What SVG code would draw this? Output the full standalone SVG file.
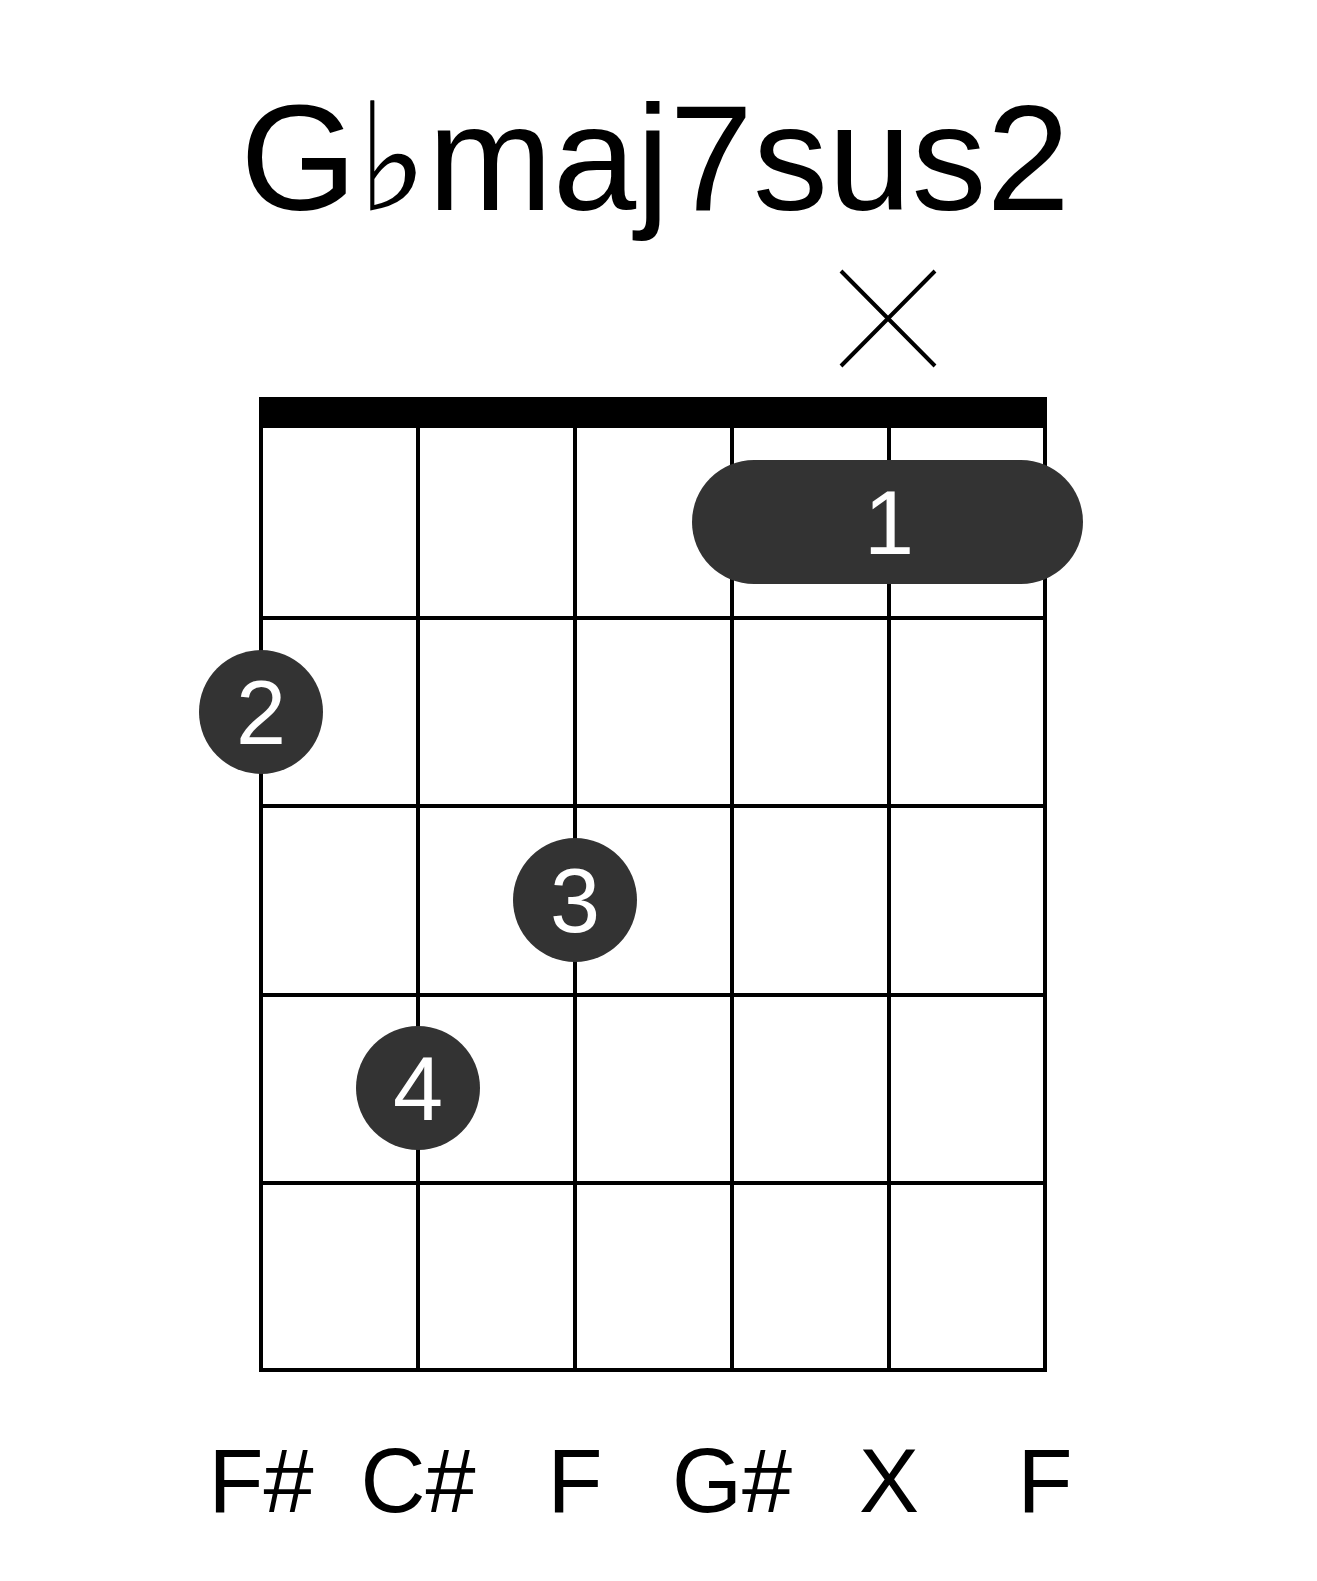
<svg xmlns="http://www.w3.org/2000/svg" width="1317" height="1581" viewBox="0 0 1317 1581">
<style>
.t{font-family:"Liberation Sans",Arial,sans-serif;text-anchor:middle;fill:#000}
.g{stroke:#000;stroke-width:4;fill:none}
.d{fill:#333}
.n{font-family:"Liberation Sans",Arial,sans-serif;text-anchor:middle;fill:#fff;font-size:90px}
</style>
<rect width="1317" height="1581" fill="#fff"/>
<text class="t" x="655" y="210" font-size="150">G♭maj7sus2</text>
<g id="grid">
<rect x="259" y="397" width="788" height="31" fill="#000"/>
<path class="g" d="M261 428V1370M418 428V1370M575 428V1370M732 428V1370M889 428V1370M1045 428V1370M259 618H1047M259 806H1047M259 995H1047M259 1183H1047M259 1370H1047"/>
</g>
<g id="mute"><path d="M841 271L935 366M935 271L841 366" stroke="#000" stroke-width="4"/></g>
<g id="barre"><rect class="d" x="692" y="460" width="391" height="124" rx="62"/><text class="n" x="889" y="554">1</text></g>
<g id="f2"><circle class="d" cx="261" cy="712" r="62"/><text class="n" x="261" y="744">2</text></g>
<g id="f3"><circle class="d" cx="575" cy="900" r="62"/><text class="n" x="575" y="932">3</text></g>
<g id="f4"><circle class="d" cx="418" cy="1088" r="62"/><text class="n" x="418" y="1120">4</text></g>
<g id="labels" class="t" font-size="90">
<text x="261" y="1512">F#</text><text x="418" y="1512">C#</text><text x="575" y="1512">F</text><text x="732" y="1512">G#</text><text x="889" y="1512">X</text><text x="1045" y="1512">F</text>
</g>
</svg>
